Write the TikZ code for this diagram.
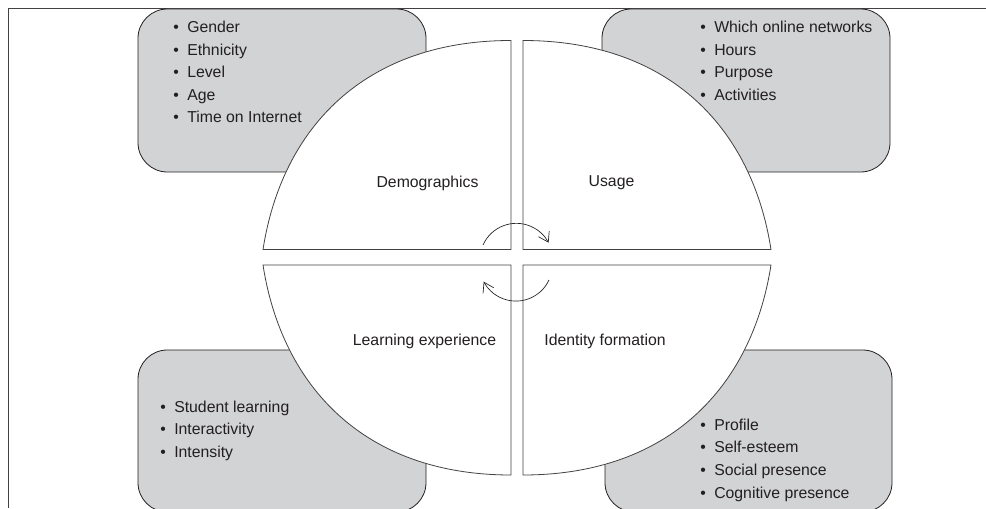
\documentclass[tikz,border=0pt]{standalone}
\usepackage{fontspec}
\setmainfont{Liberation Sans}
\usetikzlibrary{arrows.meta}
\definecolor{boxgray}{HTML}{D1D3D4}
\definecolor{inkgray}{HTML}{231F20}
\newcommand{\itembul}{\makebox[10.5pt][l]{\textbullet}}

\begin{document}
\begin{tikzpicture}[x=0.75pt,y=0.75pt,
    every node/.style={font=\fontsize{11.85}{14}\selectfont,text=inkgray,inner sep=0pt},
    infobox/.style={draw=inkgray,fill=boxgray,rounded corners=22pt,line width=0.6pt},
    quarter/.style={draw=inkgray!85,fill=white,line width=0.6pt},
    item/.style={anchor=base west},
    turn/.style={draw=inkgray,line width=0.5pt,-{Straight Barb[length=7pt,width=9pt]}}]
        \useasboundingbox (0,0) rectangle (986,508);
        \draw[inkgray!85,line width=0.6pt] (986,500)--(8,500)--(8,0);

        % grey boxes behind the circle
        \draw[infobox] (138,336) rectangle (426,499);
        \draw[infobox] (602,336) rectangle (890,499);
        \draw[infobox] (138,-4) rectangle (426,158);
        \draw[infobox] (605,-4) rectangle (892,158);

        % the four quarters
        \coordinate (Q1) at (511,258.5);
        \coordinate (Q2) at (523,258.5);
        \coordinate (Q3) at (511,243);
        \coordinate (Q4) at (523,243);
        \draw[quarter] (Q1)--(263,258.5) .. controls (282,380.5) and (365,467.5) .. (511,467.5)--cycle;
        \draw[quarter] (Q2)--(523,467.5) .. controls (669,467.5) and (752,380.5) .. (771,258.5)--cycle;
        \draw[quarter] (Q3)--(263,243) .. controls (282,121) and (365,33) .. (511,33)--cycle;
        \draw[quarter] (Q4)--(771,243) .. controls (752,121) and (669,33) .. (523,33)--cycle;

        \node (demo) at (427.5,325) {Demographics};
        \node (usage) at (611.5,325) {Usage};
        \node (learn) at (424.5,167) {Learning experience};
        \node (ident) at (605,167) {Identity formation};

        % turning arrows
        \coordinate (T1) at (483,263);
        \coordinate (T2) at (549,228);
        \draw[turn] (T1) arc[start angle=156,end angle=28,radius=36.5];
        \draw[turn] (T2) arc[start angle=-25,end angle=-152,radius=36.5];

        % demographics
        \node[item] (d1) at (173,475) {\itembul Gender};
        \node[item] (d2) at (173,452.6) {\itembul Ethnicity};
        \node[item] (d3) at (173,430.2) {\itembul Level};
        \node[item] (d4) at (173,407.8) {\itembul Age};
        \node[item] (d5) at (173,385.4) {\itembul Time on Internet};

        % usage
        \node[item] (u1) at (700,475) {\itembul Which online networks};
        \node[item] (u2) at (700,452.6) {\itembul Hours};
        \node[item] (u3) at (700,430.2) {\itembul Purpose};
        \node[item] (u4) at (700,407.8) {\itembul Activities};

        % learning experience
        \node[item] (l1) at (160,96) {\itembul Student learning};
        \node[item] (l2) at (160,73.4) {\itembul Interactivity};
        \node[item] (l3) at (160,50.8) {\itembul Intensity};

        % identity formation
        \node[item] (i1) at (700,78) {\itembul Profile};
        \node[item] (i2) at (700,55.3) {\itembul Self-esteem};
        \node[item] (i3) at (700,32.6) {\itembul Social presence};
        \node[item] (i4) at (700,9.9) {\itembul Cognitive presence};
\end{tikzpicture}
\end{document}
